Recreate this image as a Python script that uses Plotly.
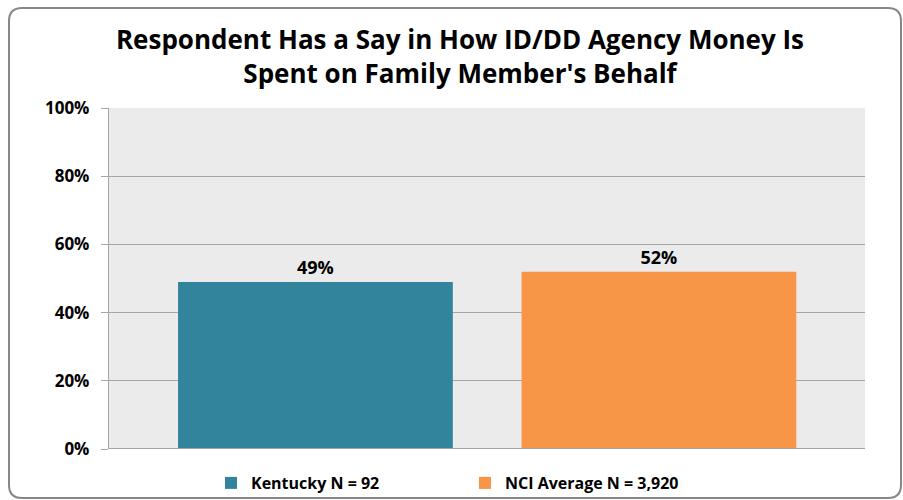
import plotly.graph_objects as go

series_names = ["Kentucky N = 92", "NCI Average N = 3,920"]
series_values = [49, 52]
series_labels = ["49%", "52%"]
series_colors = ["#31849b", "#f79646"]
y_ticks = [0, 20, 40, 60, 80, 100]
y_tick_labels = ["0%", "20%", "40%", "60%", "80%", "100%"]
title_text = "Respondent Has a Say in How ID/DD Agency Money Is<br>Spent on Family Member's Behalf"

W, H = 903, 500
L, R, T, B = 109, 38, 108, 51
PW, PH = W - L - R, H - T - B

FONT = "Open Sans"

fig = go.Figure()
for i, (name, v, lab, col) in enumerate(zip(series_names, series_values, series_labels, series_colors)):
    fig.add_trace(go.Bar(
        x=[i], y=[v], name=name, width=0.8,
        marker=dict(color=col, line=dict(width=0)),
        text=[lab], textposition="outside",
        textfont=dict(family=FONT, size=18, color="#000000", weight="bold"),
        cliponaxis=False,
    ))

def px2paper(xp, yp):
    return (xp - L) / PW, 1 - (yp - T) / PH

# rounded border
x0, y0 = px2paper(9, 8)
x1, y1 = px2paper(901, 498)
rx, ry = 13 / PW, 13 / PH
path = (f"M{x0+rx},{y0} L{x1-rx},{y0} Q{x1},{y0} {x1},{y0-ry} "
        f"L{x1},{y1+ry} Q{x1},{y1} {x1-rx},{y1} L{x0+rx},{y1} Q{x0},{y1} {x0},{y1+ry} "
        f"L{x0},{y0-ry} Q{x0},{y0} {x0+rx},{y0} Z")
fig.add_shape(type="path", path=path, xref="paper", yref="paper",
              line=dict(color="#878787", width=2), layer="above")

lx, ly = px2paper(211, 483)

fig.update_layout(
    width=W, height=H,
    margin=dict(l=L, r=R, t=T, b=B, autoexpand=False),
    paper_bgcolor="#ffffff",
    plot_bgcolor="#ebebeb",
    showlegend=True,
    title=dict(text=title_text, x=460 / W, xanchor="center", y=1 - 49 / H, yanchor="middle",
               font=dict(family=FONT, size=26, color="#000000", weight="bold")),
    legend=dict(orientation="h", x=lx, xanchor="left", y=ly, yanchor="middle",
                entrywidth=209, entrywidthmode="pixels",
                font=dict(family=FONT, size=16, color="#000000", weight="bold"),
                bgcolor="rgba(0,0,0,0)"),
    xaxis=dict(range=[-0.601, 1.600], showticklabels=False, showgrid=False, zeroline=False,
               showline=False, ticks=""),
    yaxis=dict(range=[0, 100], tickvals=y_ticks, ticktext=y_tick_labels,
               showgrid=True, gridcolor="#a6a6a6", gridwidth=1.3,
               zeroline=False, showline=True, linecolor="#a6a6a6", linewidth=1.3,
               ticks="outside", ticklen=7, tickcolor="#a6a6a6", tickwidth=1.3,
               tickfont=dict(family=FONT, size=17, color="#000000", weight="bold"),
               ticklabelstandoff=8),
)
# bottom axis line at 0
fig.add_shape(type="line", xref="paper", yref="y", x0=0, x1=1, y0=0, y1=0,
              line=dict(color="#a6a6a6", width=2))

fig.write_html("out.html", config={"displayModeBar": False},
               post_script="document.body.style.margin='0';")
